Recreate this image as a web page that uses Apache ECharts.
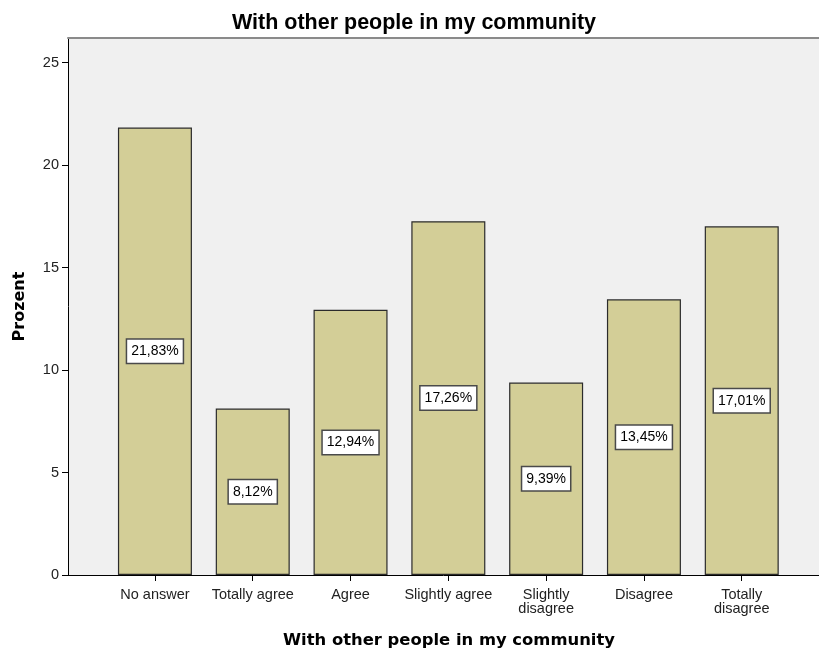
<!DOCTYPE html>
<html>
<head>
<meta charset="utf-8">
<script src="https://cdn.jsdelivr.net/npm/echarts@6/dist/echarts.min.js"></script>
<style>html,body{margin:0;padding:0;background:#fff}#c{width:819px;height:655px}</style>
</head>
<body>
<div id="c"></div>
<script>
const categories = ["No answer", "Totally agree", "Agree", "Slightly agree", "Slightly\ndisagree", "Disagree", "Totally\ndisagree"];
const values = [21.83, 8.12, 12.94, 17.26, 9.39, 13.45, 17.01];
const yTicks = [0, 5, 10, 15, 20, 25];
const positions = [1, 2, 3, 4, 5, 6, 7];

const chart = echarts.init(document.getElementById('c'), null, {renderer: 'canvas'});
const font = 'Liberation Sans, Arial, sans-serif';
const boldFont = 'DejaVu Sans, Verdana, sans-serif';
chart.setOption({
  animation: false,
  title: {
    text: 'With other people in my community',
    left: 409, top: 7, textAlign: 'center',
    textStyle: {fontFamily: font, fontSize: 21.5, fontWeight: 'bold', color: '#000'}
  },
  grid: {
    left: 68, top: 38, right: 0, height: 537,
    show: true, backgroundColor: '#F0F0F0', borderWidth: 0
  },
  xAxis: [{
    type: 'value', min: 0.111, max: 7.79,
    name: 'With other people in my community',
    nameLocation: 'middle', nameGap: 58,
    nameTextStyle: {fontFamily: boldFont, fontSize: 16.4, fontWeight: 'bold', color: '#000', padding: [0, 0, 0, 11]},
    axisLine: {show: true, onZero: false, lineStyle: {color: '#000', width: 1}},
    axisTick: {show: true, length: 6, customValues: positions, lineStyle: {color: '#000'}},
    axisLabel: {
      customValues: positions, margin: 13, fontFamily: font, fontSize: 14.5, color: '#222', lineHeight: 14,
      formatter: v => categories[Math.round(v) - 1] || ''
    },
    splitLine: {show: false}
  }, {
    type: 'value', position: 'top', min: 0.111, max: 7.79,
    axisLine: {show: true, onZero: false, lineStyle: {color: '#8a8a8a', width: 2}},
    axisTick: {show: false}, axisLabel: {show: false}, splitLine: {show: false}
  }],
  yAxis: {
    type: 'value', min: 0, max: 26.2,
    name: 'Prozent', nameLocation: 'middle', nameGap: 40,
    nameTextStyle: {fontFamily: boldFont, fontSize: 16, fontWeight: 'bold', color: '#000'},
    axisLine: {show: true, lineStyle: {color: '#000', width: 1}},
    axisTick: {show: true, length: 6, customValues: yTicks, lineStyle: {color: '#000'}},
    axisLabel: {customValues: yTicks, margin: 9, fontFamily: font, fontSize: 14.5, color: '#222'},
    splitLine: {show: false}
  },
  series: [{
    type: 'bar',
    xAxisIndex: 0,
    barWidth: 74,
    data: positions.map((p, i) => [p, values[i]]),
    itemStyle: {color: '#D3CE97', borderColor: '#2b2b2b', borderWidth: 1.2},
    label: {
      show: true, position: 'inside',
      formatter: p => p.value[1].toFixed(2).replace('.', ',') + '%',
      fontFamily: font, fontSize: 14, color: '#000',
      backgroundColor: '#fff', borderColor: '#4a4a4a', borderWidth: 1.5,
      padding: [5, 4, 4, 4]
    }
  }]
});
</script>
</body>
</html>
